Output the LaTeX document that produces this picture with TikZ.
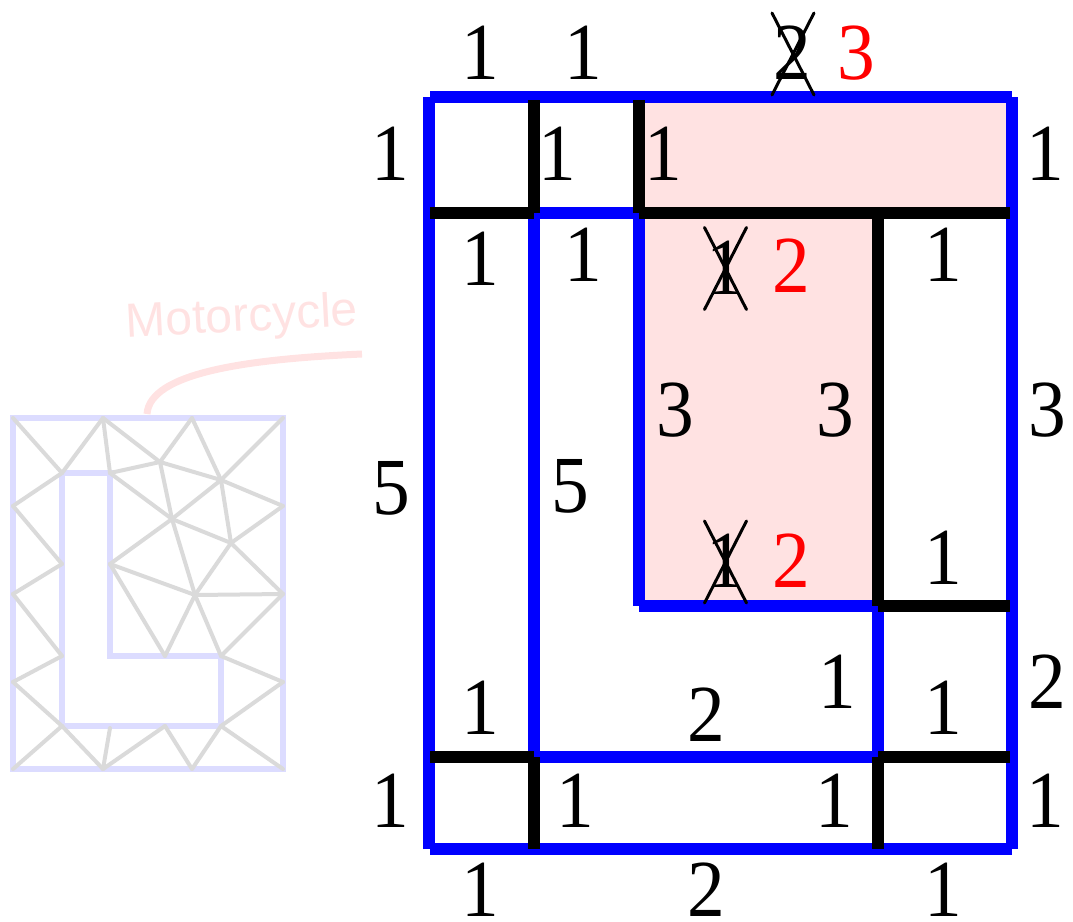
\documentclass[tikz,border=0pt]{standalone}
\usepackage{fontspec}
\setmainfont{Liberation Serif}
\newfontfamily\lblsans{Liberation Sans}
\newfontfamily\numfont[FakeStretch=0.93]{Liberation Serif}
\definecolor{pinkfill}{HTML}{FFE2E2}
\definecolor{paleblue}{HTML}{DCDCFF}
\definecolor{meshgray}{HTML}{DADADA}
\tikzset{
  num/.style={inner sep=0pt,font=\numfont\fontsize{81}{81}\selectfont,text=black},
  rednum/.style={num,text=red},
  blueline/.style={draw=blue,line width=12.5pt},
  blackline/.style={draw=black,line width=12.5pt},
  crossline/.style={draw=black,line width=3pt,line cap=round},
  meshline/.style={draw=meshgray,line width=4pt,line cap=round},
  outline/.style={draw=paleblue,line width=5.5pt},
  callout/.style={draw=pinkfill,line width=7pt}
}
\begin{document}
\begin{tikzpicture}[x=1pt,y=-1pt]
\useasboundingbox (0,0) rectangle (1073,921);
% main grid coordinates
\foreach \n/\x/\y in {tl/430/97,tr/1012/97,bl/430/849,br/1012/849,
  lt/429/97,lb/429/849,
  a1/534/100,a2/534/213,a3/534/757,a4/534/849,
  b1/639/100,b2/639/213,b3/639/606,
  c1/878/213,c2/878/606,c3/878/757,c4/878/849,
  l1/430/213,r1/1010/213,r2/1010/606,l3/430/757,r3/1010/757}
  {\coordinate (\n) at (\x,\y);}
% pink region
\fill[pinkfill] (b1) -- (tr) -- (r1) -- (c1) -- (c2) -- (b3) -- cycle;
% blue lines
\draw[blueline] (tl) -- (tr);
\draw[blueline] (tr) -- (br);
\draw[blueline] (bl) -- (br);
\draw[blueline] (lb) -- (lt);
\draw[blueline] (a2) -- (b2);
\draw[blueline] (a2) -- (a3);
\draw[blueline] (b2) -- (b3);
\draw[blueline] (b3) -- (c2);
\draw[blueline] (c2) -- (c3);
\draw[blueline] (a3) -- (c3);
% black lines
\draw[blackline] (a1) -- (a2);
\draw[blackline] (b1) -- (b2);
\draw[blackline] (l1) -- (a2);
\draw[blackline] (b2) -- (r1);
\draw[blackline] (c1) -- (c2);
\draw[blackline] (c2) -- (r2);
\draw[blackline] (l3) -- (a3);
\draw[blackline] (c3) -- (r3);
\draw[blackline] (a3) -- (a4);
\draw[blackline] (c3) -- (c4);
% numbers
\foreach \n/\x/\y/\t in {
  n1/480/53/1,n2/583/53/1,n3/792/53/2,
  n4/390/154/1,n5/557/154/1,n6/663/154/1,n7/1045/154/1,
  n8/480/259/1,n9/583/255/1,n10/725/268/1,n11/943/255/1,
  n12/675/410/3,n13/835/410/3,n14/1047/410/3,
  n15/391/488/5,n16/570/486/5,
  n17/725/561/1,n18/943/558/1,
  n19/837/682/1,n20/1047/682/2,
  n21/480/708/1,n22/706/715/2,n23/943/708/1,
  n24/390/801/1,n25/575/801/1,n26/834/801/1,n27/1045/801/1,
  n28/480/890/1,n29/706/890/2,n30/943/890/1}
  {\node[num] (\n) at (\x,\y) {\t};}
\node[rednum] (r1n) at (856,53) {3};
\node[rednum] (r2n) at (791,266) {2};
\node[rednum] (r3n) at (791,561) {2};
% crossings-out
\foreach \cx/\cy in {793/54,725.5/268.5,725.5/562}{
  \draw[crossline] (\cx-21,\cy-41) -- (\cx+21,\cy+41);
  \draw[crossline] (\cx-21,\cy+41) -- (\cx+21,\cy-41);
}
% small mesh
\foreach \n/\x/\y in {
  A/13/418,B/103/418,C/192/418,D/283/418,
  E/62/473,F/110/473,G/160/462,H/221/480,I/283/506,J/13/506,
  K/172/519,L/231/543,M/62/564,N/110/564,O/13/594,P/195/595,Q/283/594,
  R/62/656,S/165/656,T/221/656,U/13/682,V/283/682,
  W/62/726,X/110/728,Y/165/726,Z/221/726,
  a/13/769,b/103/769,c/192/769,d/283/769}
  {\coordinate (\n) at (\x,\y);}
\draw[outline] (A) -- (D) -- (d) -- (a) -- cycle;
\draw[outline] (E) -- (F) -- (R -| F) -- (T) -- (Z) -- (W) -- cycle;
\foreach \p/\q in {A/E,E/B,B/F,B/G,G/C,C/H,H/D,F/G,G/H,E/J,J/M,M/O,O/R,R/U,U/W,W/a,W/b,b/X,b/Y,Y/c,c/Z,Z/d,Z/V,V/T,T/P,T/Q,P/Q,P/S,S/N,N/P,N/K,K/F,K/G,K/H,K/L,K/P,H/L,H/I,I/L,L/P,L/Q}
  {\draw[meshline] (\p) -- (\q);}
% callout
\node[inner sep=0pt,rotate=3,text=pinkfill,font=\lblsans\fontsize{48}{48}\selectfont] (moto) at (242,319) {Motorcycle};
\coordinate (cs) at (147,414);
\coordinate (ce) at (362,354);
\draw[callout] (cs) .. controls (150,372) and (250,359) .. (ce);
\end{tikzpicture}
\end{document}
